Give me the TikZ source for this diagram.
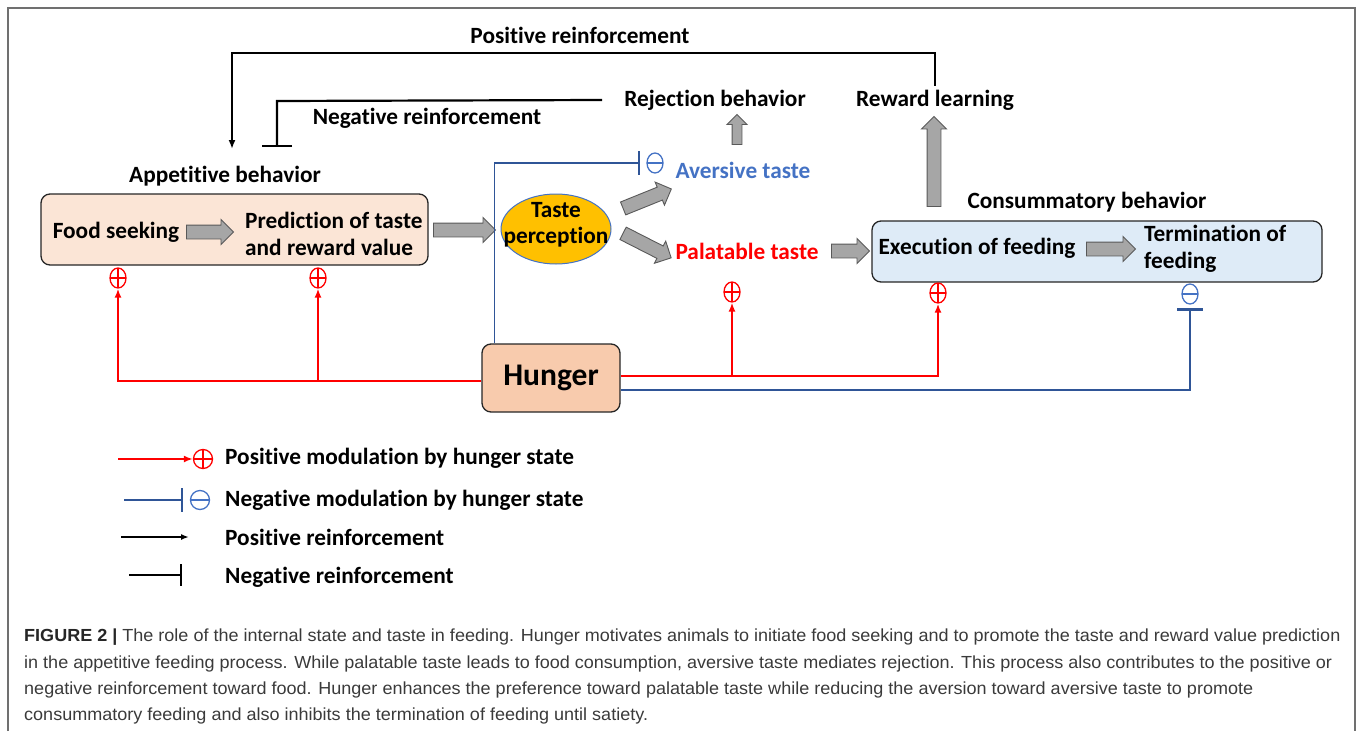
\documentclass[tikz,border=0pt]{standalone}
\usepackage{fontspec}
\setmainfont{Carlito}[Ligatures=NoCommon]
\newfontfamily\capfont{Liberation Sans}
\usetikzlibrary{shapes.geometric,shapes.arrows,arrows.meta}
\definecolor{peach}{HTML}{FBE5D6}
\definecolor{hungerfill}{HTML}{F8CBAD}
\definecolor{lblue}{HTML}{DEEBF7}
\definecolor{gold}{HTML}{FFC000}
\definecolor{txtblue}{HTML}{4472C4}
\definecolor{lnblue}{HTML}{2F5597}
\definecolor{pred}{HTML}{FF0000}
\definecolor{blkgray}{HTML}{A6A6A6}
\definecolor{blkedge}{HTML}{595959}
\definecolor{framegray}{HTML}{707070}
\definecolor{captxt}{HTML}{3A3A3A}
\begin{document}
\begin{tikzpicture}[x=1pt,y=-1pt,
  lbl/.style={font=\fontsize{23.3}{27.5}\selectfont\bfseries, inner sep=2pt},
  roundbox/.style={draw=black!85, line width=1.3pt, rounded corners=9pt},
  blk/.style={single arrow, fill=blkgray, draw=blkedge, line width=0.9pt, inner xsep=0pt, inner ysep=6.5pt, single arrow head extend=5.5pt, single arrow head indent=0pt},
  pmark/.style={ellipse, draw=pred, line width=1.3pt, minimum width=16pt, minimum height=20pt, inner sep=0pt,
    path picture={\draw[pred, line width=1.3pt] (path picture bounding box.north) -- (path picture bounding box.south) (path picture bounding box.west) -- (path picture bounding box.east);}},
  mmark/.style={ellipse, draw=txtblue, line width=1.3pt, minimum width=16pt, minimum height=20pt, inner sep=0pt,
    path picture={\draw[txtblue, line width=1.3pt] (path picture bounding box.west) -- (path picture bounding box.east);}},
  redl/.style={draw=pred, line width=2.2pt},
  redthin/.style={draw=pred, line width=1.6pt},
  bluel/.style={draw=lnblue, line width=2.2pt},
  bluethin/.style={draw=lnblue, line width=1.6pt},
  reinf/.style={draw=black, line width=2.2pt},
  redtip/.style={-{Latex[length=9pt,width=7pt]}},
]
\useasboundingbox (0,0) rectangle (1357,731);
% frame
\draw[framegray, line width=1.5pt] (8,731) -- (8,8) -- (1355,8) -- (1355,731);

% labels on top
\node[lbl] (posr) at (580,35) {Positive reinforcement};
\node[lbl] (negr) at (427,118) {Negative reinforcement};
\node[lbl] (rej) at (715,100) {Rejection behavior};
\node[lbl] (rew) at (935,100) {Reward learning};
\node[lbl] (app) at (225,176) {Appetitive behavior};
\node[lbl] (con) at (1087,202) {Consummatory behavior};

% boxes
\node[roundbox, fill=peach, minimum width=387pt, minimum height=71pt] (appbox) at (234.5,229.5) {};
\node[roundbox, fill=lblue, minimum width=450pt, minimum height=61pt] (conbox) at (1097,251.5) {};
\node[roundbox, fill=hungerfill, minimum width=138pt, minimum height=68pt, font=\fontsize{31.5}{33}\selectfont\bfseries] (hunger) at (551,378) {Hunger};
\node[ellipse, fill=gold, draw=txtblue, line width=1pt, minimum width=110pt, minimum height=70pt, inner sep=0pt] (taste) at (556,229) {};
\node[lbl, align=center, inner sep=0pt] (tastetxt) at (556,225) {Taste\\[-1pt]perception};

% texts in boxes
\node[lbl] (fs) at (116,232) {Food seeking};
\node[lbl, align=left, anchor=west] (pred) at (243,234) {Prediction of taste\\and reward value};
\node[lbl, text=txtblue] (av) at (743,170) {Aversive taste};
\node[lbl, text=pred] (pal) at (747,251) {Palatable taste};
\node[lbl] (exe) at (977,248) {Execution of feeding};
\node[lbl, align=left, anchor=west] (term) at (1142,249) {Termination of\\feeding};

% block arrows
\node[blk, minimum height=47pt] (a1) at (206.5,232) {};
\node[blk, minimum height=62pt] (a2) at (461,230) {};
\node[blk, minimum height=52pt, rotate=22] (a3) at (644,200) {};
\node[blk, minimum height=54pt, rotate=-27] (a4) at (644,244) {};
\node[blk, minimum height=38pt] (a5) at (847,251) {};
\node[blk, minimum height=49pt] (a6) at (1107.5,249) {};
\node[blk, minimum height=30pt, rotate=90, inner ysep=4.5pt, single arrow head extend=5pt] (a7) at (737,132) {};
\node[blk, minimum height=90pt, rotate=90] (a8) at (934,165) {};

% plus / minus marks
\node[pmark] (p1) at (118,278) {};
\node[pmark] (p2) at (318,278) {};
\node[pmark] (p3) at (732,292) {};
\node[pmark] (p4) at (938,293) {};
\node[mmark] (m1) at (1190,294) {};
\node[mmark] (m2) at (655,163) {};

% reinforcement connectors
\coordinate (prTop) at (232,53);
\coordinate (prEnd) at (232,149);
\draw[reinf, -{Latex[length=9pt,width=7pt]}] ([yshift=2pt]rew.north) |- (prTop) -- (prEnd);
\coordinate (nrCorner) at (277,101);
\coordinate (nrEnd) at (277,147);
\draw[reinf, -{Bar[width=30pt,line width=2.2pt]}] ([xshift=-20pt]rej.west) -- (nrCorner) -- (nrEnd);

% hunger modulation
\draw[bluethin, -{Bar[width=24pt,line width=2pt]}, shorten >=6pt] ([xshift=13pt]hunger.north west) |- (m2.west);
\draw[redl, redtip] ([yshift=-3pt]hunger.west) -| (p1.south);
\coordinate (rj2) at (318,381);
\draw[redthin, redtip] (rj2) -- (p2.south);
\draw[redl, redtip] ([yshift=2pt]hunger.east) -| (p4.south);
\coordinate (rj3) at (732,376);
\draw[redthin, redtip] (rj3) -- (p3.south);
\draw[bluel, -{Bar[width=26pt,line width=3pt]}, shorten >=3pt] ([yshift=-12pt]hunger.east) -| (m1.south);

% legend
\node[circle, draw=pred, line width=1.3pt, minimum size=19pt, inner sep=0pt,
  path picture={\draw[pred, line width=1.3pt] (path picture bounding box.north) -- (path picture bounding box.south) (path picture bounding box.west) -- (path picture bounding box.east);}] (lp) at (203,459) {};
\coordinate (l1a) at (118,459);
\draw[redl, -{Latex[length=9pt,width=7pt]}] (l1a) -- (lp.west);
\node[lbl, anchor=west] (lt1) at (223,458) {Positive modulation by hunger state};

\node[circle, draw=txtblue, line width=1.3pt, minimum size=19pt, inner sep=0pt,
  path picture={\draw[txtblue, line width=1.3pt] (path picture bounding box.west) -- (path picture bounding box.east);}] (lm) at (200,500) {};
\coordinate (l2a) at (124,500);
\draw[bluel, -{Bar[width=24pt,line width=2.2pt]}, shorten >=7pt] (l2a) -- (lm.west);
\node[lbl, anchor=west] (lt2) at (223,500) {Negative modulation by hunger state};

\coordinate (l3a) at (121,537);
\coordinate (l3b) at (189,537);
\draw[reinf, -{Latex[length=8pt,width=6pt]}] (l3a) -- (l3b);
\node[lbl, anchor=west] (lt3) at (223,537) {Positive reinforcement};

\coordinate (l4a) at (129,575);
\coordinate (l4b) at (182,575);
\draw[reinf, -{Bar[width=22pt,line width=2.2pt]}] (l4a) -- (l4b);
\node[lbl, anchor=west] (lt4) at (223,577) {Negative reinforcement};

% caption
\node[anchor=north west, align=left, inner sep=0pt, text=captxt,
  font=\capfont\fontsize{17.5}{26.3}\selectfont, xscale=1.03, transform shape] (cap) at (24,629)
{{\bfseries\color{black!85}FIGURE 2 |} The role of the internal state and taste in feeding. Hunger motivates animals to initiate food seeking and to promote the taste and reward value prediction\\
in the appetitive feeding process. While palatable taste leads to food consumption, aversive taste mediates rejection. This process also contributes to the positive or\\
negative reinforcement toward food. Hunger enhances the preference toward palatable taste while reducing the aversion toward aversive taste to promote\\
consummatory feeding and also inhibits the termination of feeding until satiety.};
\end{tikzpicture}
\end{document}
